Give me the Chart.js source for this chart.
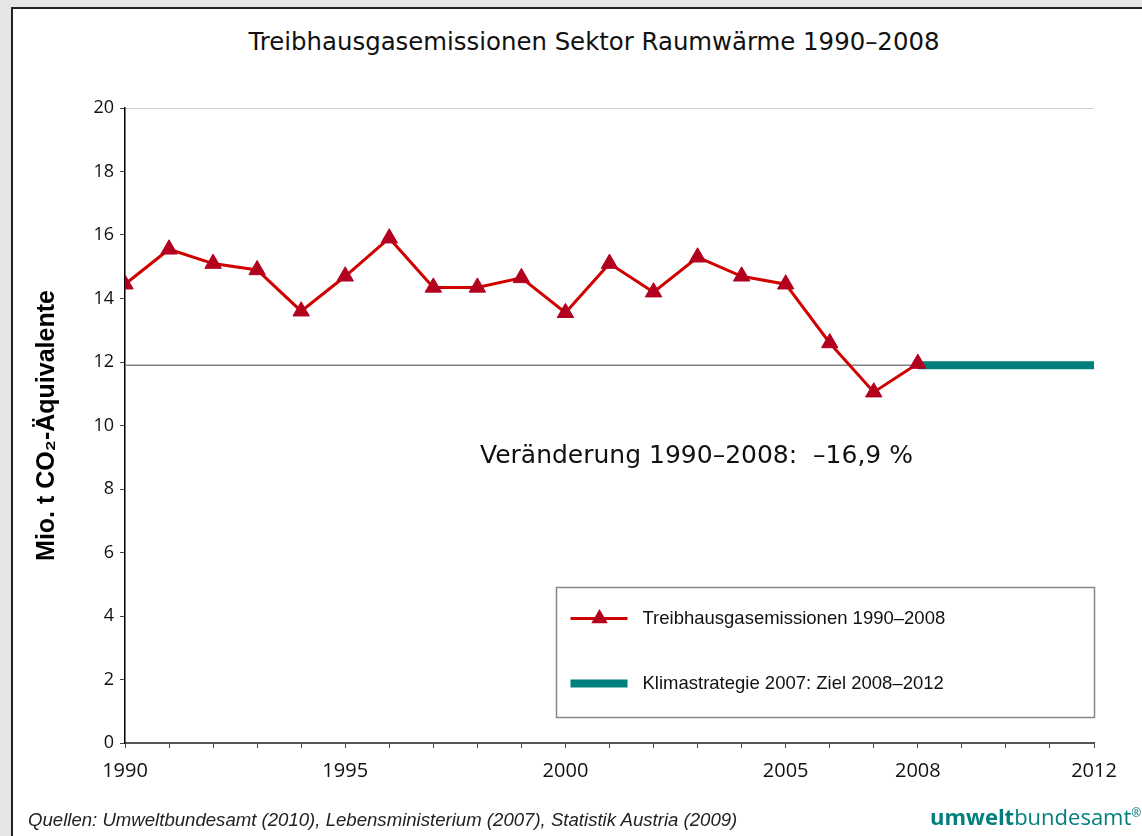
<!DOCTYPE html>
<html>
<head>
<meta charset="utf-8">
<script src="https://cdn.jsdelivr.net/npm/chart.js@4.4.1/dist/chart.umd.min.js"></script>
<style>
html, body { margin: 0; padding: 0; }
body { width: 1142px; height: 836px; background: #e6e6e6; position: relative; overflow: hidden; font-family: "Open Sans", sans-serif; }
#panel { position: absolute; left: 11px; top: 7px; width: 1200px; height: 900px; background: #fff; border-top: 2px solid #222; border-left: 2px solid #222; }
#title { position: absolute; left: 0; width: 1188px; top: 27px; text-align: center; font-family: "DejaVu Sans", sans-serif; font-size: 24.4px; line-height: 30px; color: #111; }
#wrap { position: absolute; left: 0; top: 0; width: 1142px; height: 836px; }
#source { position: absolute; left: 28px; top: 809px; font-family: "Liberation Sans", Arial, sans-serif; font-style: italic; font-size: 18.6px; line-height: 22px; color: #222; }
#logo { position: absolute; left: 930px; top: 797px; font-family: "Open Sans", sans-serif; font-size: 22px; line-height: 31px; color: #00807c; white-space: nowrap; }
#logo b { font-weight: 700; }
#logo sup { font-size: 12px; }
</style>
</head>
<body>
<div id="panel"></div>
<div id="title">Treibhausgasemissionen Sektor Raumwärme 1990–2008</div>
<div id="wrap"><canvas id="chart"></canvas></div>
<div id="source">Quellen: Umweltbundesamt (2010), Lebensministerium (2007), Statistik Austria (2009)</div>
<div id="logo"><b>umwelt</b>bundesamt<sup>®</sup></div>
<script>
const years = [1990, 1991, 1992, 1993, 1994, 1995, 1996, 1997, 1998, 1999, 2000, 2001, 2002, 2003, 2004, 2005, 2006, 2007, 2008];
const emissions = [14.45, 15.55, 15.1, 14.9, 13.6, 14.7, 15.9, 14.35, 14.35, 14.65, 13.55, 15.1, 14.2, 15.3, 14.7, 14.45, 12.6, 11.05, 11.95];
const targetValue = 11.9;
const targetYears = [2008, 2012];
const referenceYears = [1990, 2008];
const xLabelYears = [1990, 1995, 2000, 2005, 2008, 2012];
const allYears = [];
for (let yr = 1990; yr <= 2012; yr++) allYears.push(yr);

const seriesLabel = 'Treibhausgasemissionen 1990–2008';
const targetLabel = 'Klimastrategie 2007: Ziel 2008–2012';
const noteText = 'Veränderung 1990–2008:  –16,9 %';

const red = '#d00000';
const markerRed = '#b3001f';
const teal = '#00807c';

// note text and legend box inside the plot
const overlay = {
    id: 'overlay',
    afterDraw(chart) {
        const ctx = chart.ctx;
        const x = chart.scales.x, y = chart.scales.y;
        const area = chart.chartArea;
        ctx.save();
        ctx.font = '25px "DejaVu Sans"';
        ctx.fillStyle = '#111';
        ctx.textBaseline = 'middle';
        ctx.fillText(noteText, x.getPixelForValue(1998.06), y.getPixelForValue(9.02));

        const bw = 538, bh = 130;
        const bx = area.right - bw + 0.5, by = area.bottom - 156 + 0.5;
        ctx.fillStyle = '#fff';
        ctx.fillRect(bx, by, bw, bh);
        ctx.strokeStyle = '#888';
        ctx.lineWidth = 1.5;
        ctx.strokeRect(bx, by, bw, bh);

        const r1 = by + 31, r2 = by + 96;
        ctx.strokeStyle = red;
        ctx.lineWidth = 3;
        ctx.beginPath();
        ctx.moveTo(bx + 14, r1);
        ctx.lineTo(bx + 71, r1);
        ctx.stroke();
        ctx.fillStyle = markerRed;
        const cx = bx + 43, rad = 9.5;
        ctx.beginPath();
        ctx.moveTo(cx, r1 - rad);
        ctx.lineTo(cx + rad * Math.sin(Math.PI * 2 / 3), r1 + rad / 2);
        ctx.lineTo(cx - rad * Math.sin(Math.PI * 2 / 3), r1 + rad / 2);
        ctx.closePath();
        ctx.fill();

        ctx.fillStyle = teal;
        ctx.fillRect(bx + 14, r2 - 4, 57, 8);

        ctx.fillStyle = '#111';
        ctx.font = '18.5px "Liberation Sans", Arial';
        ctx.fillText(seriesLabel, bx + 86, r1);
        ctx.fillText(targetLabel, bx + 86, r2);
        ctx.restore();
    }
};

new Chart(document.getElementById('chart'), {
    type: 'line',
    data: {
        datasets: [
            {
                label: seriesLabel,
                data: years.map((yr, i) => ({ x: yr, y: emissions[i] })),
                borderColor: red,
                borderWidth: 3,
                pointStyle: 'triangle',
                pointRadius: 9.5,
                pointBackgroundColor: markerRed,
                pointBorderColor: markerRed,
                pointBorderWidth: 1,
                tension: 0,
                order: 0
            },
            {
                label: targetLabel,
                data: targetYears.map(yr => ({ x: yr, y: targetValue })),
                borderColor: teal,
                borderWidth: 8,
                pointRadius: 0,
                order: 1
            },
            {
                label: 'Ziel',
                data: referenceYears.map(yr => ({ x: yr, y: targetValue })),
                borderColor: '#808080',
                borderWidth: 1.5,
                pointRadius: 0,
                order: 2
            }
        ]
    },
    options: {
        responsive: true,
        maintainAspectRatio: false,
        animation: false,
        layout: { padding: { left: 30, right: 48, top: 108, bottom: 42 } },
        plugins: { legend: { display: false }, tooltip: { enabled: false } },
        scales: {
            x: {
                type: 'linear',
                min: 1990,
                max: 2012,
                afterBuildTicks: scale => { scale.ticks = allYears.map(v => ({ value: v })); },
                ticks: {
                    autoSkip: false,
                    maxRotation: 0,
                    padding: 11,
                    color: '#111',
                    font: { family: 'Open Sans', size: 20 },
                    callback: v => xLabelYears.includes(v) ? String(v) : ''
                },
                grid: { drawOnChartArea: false, drawTicks: true, tickLength: 5, tickColor: '#444' },
                border: { color: '#555', width: 2 }
            },
            y: {
                min: 0,
                max: 20,
                afterFit: scale => { scale.width = 95; },
                ticks: { stepSize: 2, padding: 6, color: '#111', font: { family: 'Open Sans', size: 18 } },
                grid: {
                    color: c => c.tick.value === 20 ? '#cfcfcf' : 'rgba(0,0,0,0)',
                    drawTicks: true,
                    tickLength: 5,
                    tickColor: '#444'
                },
                border: { color: '#000', width: 1.5 },
                title: {
                    display: true,
                    text: 'Mio. t CO₂-Äquivalente',
                    color: '#000',
                    font: { family: 'Liberation Sans', size: 25, weight: 'bold' },
                    padding: { top: 2, bottom: 3 }
                }
            }
        }
    },
    plugins: [overlay]
});
</script>
</body>
</html>
